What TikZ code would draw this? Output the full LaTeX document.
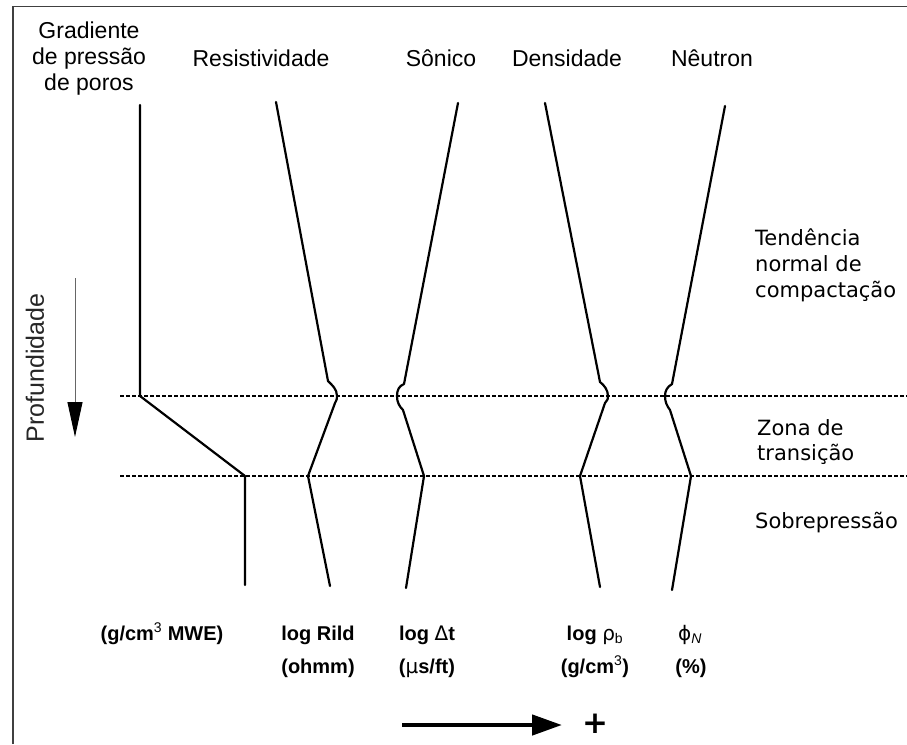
\documentclass[tikz,border=0pt]{standalone}
\usepackage{fontspec}
\setmainfont{Liberation Sans}
\newfontfamily\zonefont{DejaVu Sans}
\newfontfamily\greekfont{DejaVu Sans}
\usetikzlibrary{arrows.meta}

\begin{document}
\begin{tikzpicture}[x=1pt,y=-1pt,
  frame/.style={line width=1.6pt, black!75},
  curve/.style={line width=2.2pt, line join=round, line cap=round},
  level/.style={line width=2.8pt, dash pattern=on 4pt off 2pt},
  head/.style={font=\fontsize{23}{26}\selectfont, anchor=base, inner sep=0pt},
  zone/.style={font=\zonefont\fontsize{21}{26}\selectfont, anchor=base west, inner sep=0pt},
  unit/.style={font=\bfseries\fontsize{20}{24}\selectfont, anchor=base, inner sep=0pt},
]
\useasboundingbox (0,0) rectangle (907,744);

% frame (left and top edges)
\draw[frame] (12.7,744) -- (12.7,6.5) -- (907,6.5);

% column headings
\node[head] (gp1) at (89,38) {Gradiente};
\node[head] (gp2) at (89,64) {de pressão};
\node[head] (gp3) at (89,90) {de poros};
\node[head] (res) at (261,66) {Resistividade};
\node[head] (son) at (441,66) {Sônico};
\node[head] (den) at (567,66) {Densidade};
\node[head] (neu) at (712,66) {Nêutron};

% depth axis
\node[font=\fontsize{25}{28}\selectfont, text=black!85, rotate=90, inner sep=0pt] (prof) at (35,368) {Profundidade};
\coordinate (dtop) at (75,278);
\coordinate (dbot) at (75,437);
\draw[line width=1pt, black!60, -{Triangle[length=35pt,width=15pt,black]}] (dtop) -- (dbot);

% boundaries of the transition zone
\coordinate (l1a) at (120,396);
\coordinate (l1b) at (907,396);
\coordinate (l2a) at (120,476);
\coordinate (l2b) at (907,476);
\draw[level] (l1a) -- (l1b);
\draw[level] (l2a) -- (l2b);

% pore pressure gradient
\draw[curve] (140,105) -- (140,396) -- (245,476) -- (245,585);

% resistivity
\draw[curve] (276,102) -- (328,381) .. controls (332,385) and (337,389) .. (337,396)
  .. controls (337,399) .. (335,403) -- (308,476) -- (330,586);

% sonic
\draw[curve] (458,103) -- (404,384) .. controls (399,386) and (397,390) .. (397,396)
  .. controls (397,402) and (399,406) .. (403,410) -- (424,476) -- (406,588);

% density
\draw[curve] (545,103) -- (600,382) .. controls (604,385) and (608,390) .. (608,396)
  .. controls (608,399) .. (605,403) -- (580,476) -- (600,587);

% neutron
\draw[curve] (725,106) -- (672,384) .. controls (667,387) and (665,391) .. (665,396)
  .. controls (665,402) and (667,406) .. (670,410) -- (691,476) -- (672,590);

% zone labels
\node[zone] (z1a) at (755,245) {Tendência};
\node[zone] (z1b) at (755,271) {normal de};
\node[zone] (z1c) at (755,297) {compactação};
\node[zone] (z2a) at (757,435) {Zona de};
\node[zone] (z2b) at (757,460) {transição};
\node[zone] (z3)  at (755,528) {Sobrepressão};

% units
\node[unit] (u1) at (162,640) {(g/cm\textsuperscript{\mdseries 3} MWE)};
\node[unit] (u2a) at (318,640) {log Rild};
\node[unit] (u2b) at (318,673) {(ohmm)};
\node[unit] (u3a) at (427,640) {log {\mdseries\greekfont Δ}t};
\node[unit] (u3b) at (427,673) {({\mdseries\greekfont μ}s/ft)};
\node[unit] (u4a) at (595,640) {log {\mdseries\greekfont ρ}\textsubscript{\mdseries b}};
\node[unit] (u4b) at (595,673) {(g/cm\textsuperscript{\mdseries 3})};
\node[unit] (u5a) at (690,640) {{\mdseries\greekfont ϕ}\textsubscript{\mdseries\itshape N}};
\node[unit] (u5b) at (691,673) {(\%)};

% increasing values
\coordinate (ax0) at (402,725);
\coordinate (ax1) at (562,725);
\draw[line width=4.5pt, -{Triangle[length=30pt,width=20pt]}] (ax0) -- (ax1);
\node[font=\zonefont\bfseries\fontsize{31}{31}\selectfont, inner sep=0pt] (plus) at (595,724) {+};
\end{tikzpicture}
\end{document}
